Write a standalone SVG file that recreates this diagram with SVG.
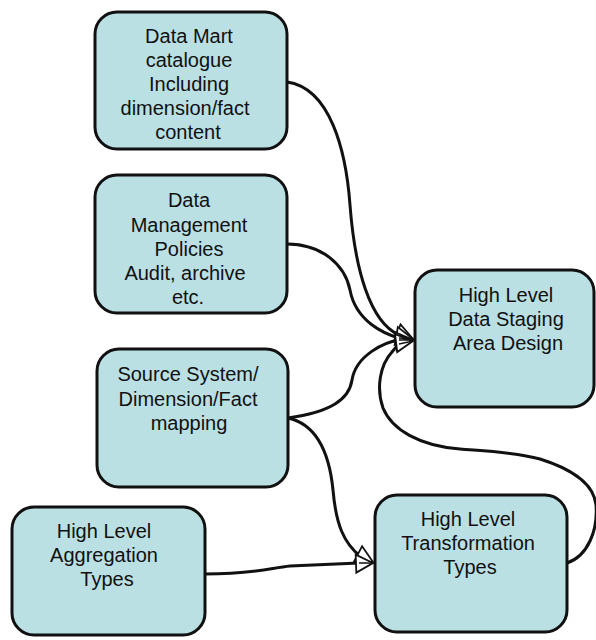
<svg xmlns="http://www.w3.org/2000/svg" width="596" height="640" viewBox="0 0 596 640">
<style>
.box{fill:#BBE0E3;stroke:#111;stroke-width:3}
.t{font-family:"Liberation Sans",Arial,sans-serif;font-size:20px;fill:#111;text-anchor:middle}
.c{fill:none;stroke:#111;stroke-width:3}
.h{fill:none;stroke:none}
.f{fill:none;stroke:#111;stroke-width:1.3}
</style>
<defs>
<marker id="arr" markerUnits="userSpaceOnUse" markerWidth="22" markerHeight="24" refX="19" refY="12" orient="auto" viewBox="0 0 22 24">
<path d="M2,3 L19,12 L2,21 Z" fill="#fff" stroke="#111" stroke-width="1.8" stroke-linejoin="miter"/>
</marker>
</defs>
<rect width="596" height="640" fill="#fff"/>
<g id="connectors">
<path class="c" d="M287,82 C330,88 346,150 350,205 C355,270 370,322 399,335"/>
<path class="c" d="M287,244 C322,244 345,265 350,290 C356,322 385,334 399,338"/>
<path class="c" d="M288,418 C330,412 349,400 352,380 C356,355 385,342 399,340"/>
<path class="c" d="M567,563 C588,556 598,530 596,505 C594,485 575,470 540,459 C515,452 485,451 460,449 C420,446 392,430 383,408 C376,388 380,365 392,352 C395,348 397,346 399,344"/>
<path class="c" d="M288,418 C320,425 330,460 333,490 C336,525 344,543 360,556"/>
<path class="c" d="M205,574 C255,574 270,568 290,566 L359,563"/>
<path class="h" d="M287,82 C330,88 346,150 350,205 C355,270 370,322 413,339" marker-end="url(#arr)"/>
<path class="h" d="M287,244 C322,244 345,265 350,290 C356,322 385,334 413,339" marker-end="url(#arr)"/>
<path class="h" d="M288,418 C330,412 349,400 352,380 C356,355 385,342 413,340" marker-end="url(#arr)"/>
<path class="h" d="M392,352 C398,346 405,342 413,341" marker-end="url(#arr)"/>
<path class="h" d="M288,418 C320,425 330,460 333,490 C336,525 350,550 373,562" marker-end="url(#arr)"/>
<path class="h" d="M290,566 L373,563" marker-end="url(#arr)"/>
<path class="f" d="M399,335 L413,339 M399,338 L413,339 M399,340 L413,340 M399,344 L413,341 M359,563 L373,563"/>
</g>
<g id="n1">
<rect class="box" x="95" y="12" width="192" height="137" rx="22"/>
<text class="t" x="189" y="43">Data Mart</text>
<text class="t" x="189" y="67">catalogue</text>
<text class="t" x="189" y="91">Including</text>
<text class="t" x="185" y="115">dimension/fact</text>
<text class="t" x="188" y="139">content</text>
</g>
<g id="n2">
<rect class="box" x="95" y="175" width="192" height="138" rx="22"/>
<text class="t" x="189" y="207">Data</text>
<text class="t" x="189" y="232">Management</text>
<text class="t" x="189" y="256">Policies</text>
<text class="t" x="185" y="280">Audit, archive</text>
<text class="t" x="188" y="304">etc.</text>
</g>
<g id="n3">
<rect class="box" x="415" y="270" width="179" height="137" rx="22"/>
<text class="t" x="506" y="302">High Level</text>
<text class="t" x="506" y="326">Data Staging</text>
<text class="t" x="508" y="350">Area Design</text>
</g>
<g id="n4">
<rect class="box" x="97" y="349" width="191" height="138" rx="22"/>
<text class="t" x="188" y="381">Source System/</text>
<text class="t" x="188" y="406">Dimension/Fact</text>
<text class="t" x="189" y="430">mapping</text>
</g>
<g id="n5">
<rect class="box" x="12" y="507" width="193" height="128" rx="22"/>
<text class="t" x="104" y="538">High Level</text>
<text class="t" x="104" y="562">Aggregation</text>
<text class="t" x="107" y="586">Types</text>
</g>
<g id="n6">
<rect class="box" x="375" y="495" width="192" height="137" rx="22"/>
<text class="t" x="468" y="526">High Level</text>
<text class="t" x="468" y="550">Transformation</text>
<text class="t" x="470" y="574">Types</text>
</g>
</svg>
